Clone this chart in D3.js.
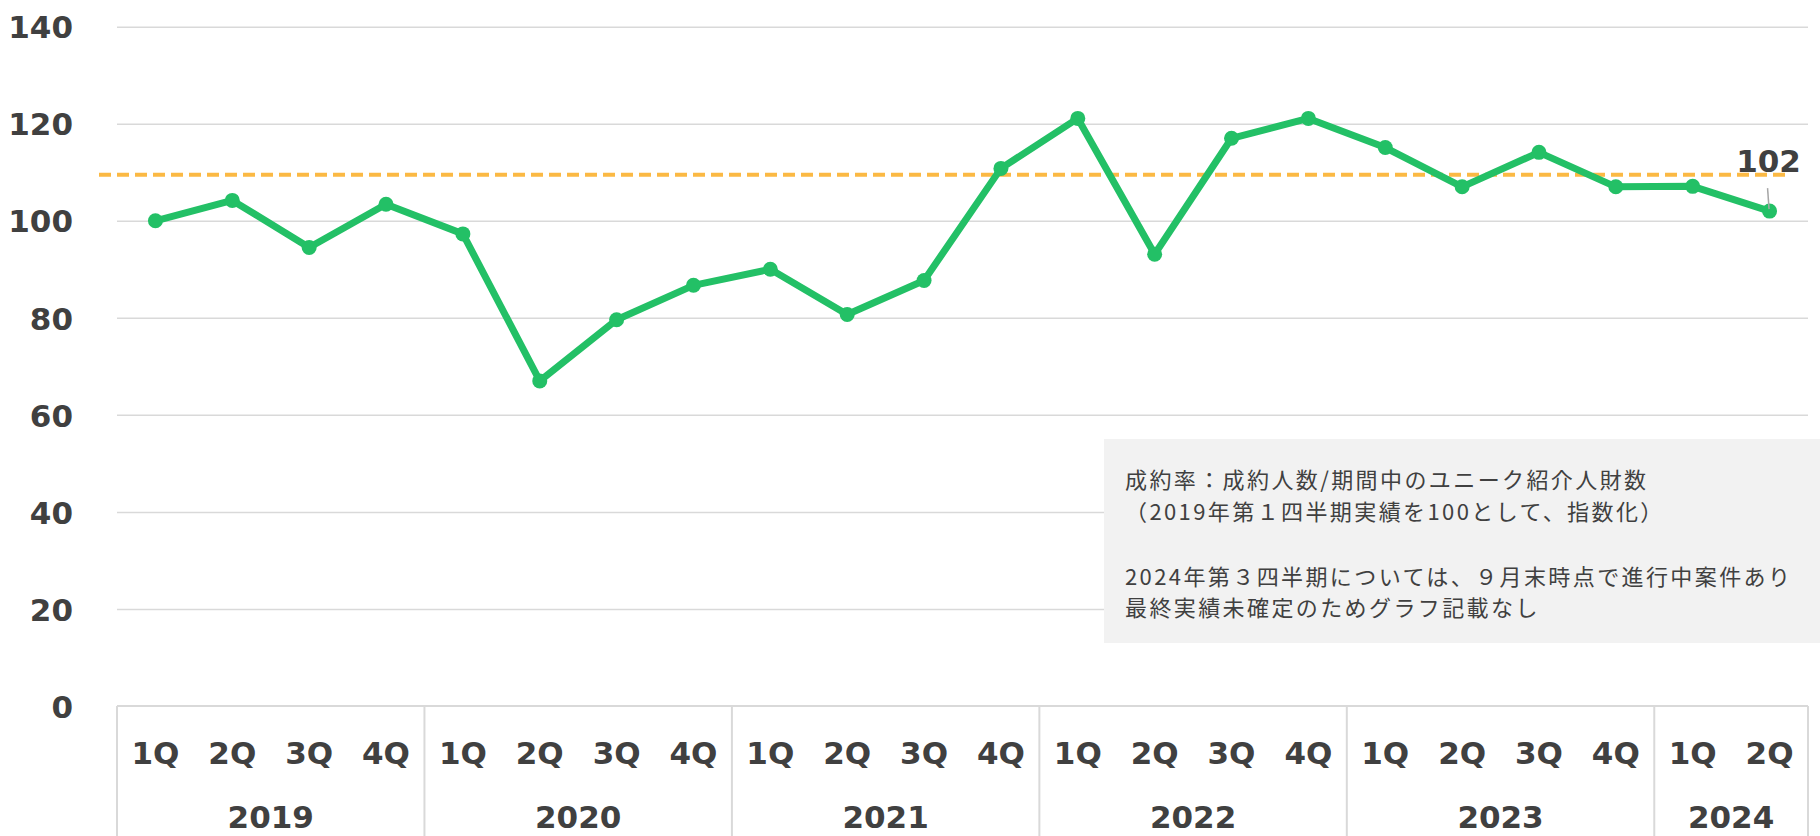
<!DOCTYPE html>
<html>
<head>
<meta charset="utf-8">
<script src="https://cdn.jsdelivr.net/npm/d3@7"></script>
<style>
  html, body { margin: 0; padding: 0; background: #ffffff; }
  svg { display: block; }
</style>
</head>
<body>
<svg id="chart" width="1820" height="836"></svg>
<script>
// ---- data ----
const years = ["2019", "2020", "2021", "2022", "2023", "2024"];
const quartersPerYear = [4, 4, 4, 4, 4, 2];
const quarterNames = ["1Q", "2Q", "3Q", "4Q"];
const values = [
  100, 104.2, 94.5, 103.4,
  97.3, 67.0, 79.6, 86.7,
  90.0, 80.7, 87.7, 110.8,
  121.1, 93.1, 117.0, 121.1,
  115.1, 107.0, 114.1, 107.0,
  107.1, 102.0
];
const referenceValue = 109.5;
const yTicks = [0, 20, 40, 60, 80, 100, 120, 140];
const lastLabel = "102";
const noteLines = [
  "成約率：成約人数/期間中のユニーク紹介人財数",
  "（2019年第１四半期実績を100として、指数化）",
  "",
  "2024年第３四半期については、９月末時点で進行中案件あり",
  "最終実績未確定のためグラフ記載なし"
];

(function () {
// ---- build categories ----
const cats = [];
years.forEach((yr, i) => {
  for (let q = 0; q < quartersPerYear[i]; q++) {
    cats.push({ key: yr + "-" + quarterNames[q], year: yr, q: quarterNames[q] });
  }
});
const points = cats.map((c, i) => ({ key: c.key, value: values[i] }));

// ---- layout ----
const plotLeft = 117, plotRight = 1808, plotTop = 26.7, plotBottom = 706, svgH = 836;
const svg = d3.select("#chart");

const x = d3.scaleBand().domain(cats.map(c => c.key)).range([plotLeft, plotRight]).padding(0);
const y = d3.scaleLinear().domain([0, 140]).range([plotBottom, plotTop]);

const labelFont = "'DejaVu Sans', Verdana, sans-serif";
const labelSize = "31px";
const textColor = "#404040";
const gridColor = "#d9d9d9";

// gridlines
const grid = svg.append("g")
  .attr("transform", `translate(${plotLeft},0)`)
  .call(d3.axisLeft(y).tickValues(yTicks.filter(v => v > 0)).tickSize(-(plotRight - plotLeft)).tickFormat(""));
grid.select(".domain").remove();
grid.selectAll("line").attr("stroke", gridColor).attr("stroke-width", 1.5);

// y axis labels
const yAxis = svg.append("g")
  .attr("transform", `translate(${plotLeft},0)`)
  .call(d3.axisLeft(y).tickValues(yTicks).tickSize(0).tickPadding(44));
yAxis.select(".domain").remove();
yAxis.selectAll("text")
  .attr("fill", textColor)
  .style("font-family", labelFont)
  .style("font-weight", "bold")
  .style("font-size", labelSize)
  .attr("dy", "0.36em");

// category box: top line + separators
const box = svg.append("g");
box.append("line")
  .attr("x1", plotLeft).attr("x2", plotRight)
  .attr("y1", y(0)).attr("y2", y(0))
  .attr("stroke", gridColor).attr("stroke-width", 2);

const yearSpans = years.map(yr => {
  const ks = cats.filter(c => c.year === yr).map(c => c.key);
  return { year: yr, x0: x(ks[0]), x1: x(ks[ks.length - 1]) + x.bandwidth() };
});
const seps = [yearSpans[0].x0].concat(yearSpans.map(s => s.x1));
box.selectAll("line.sep").data(seps).enter().append("line")
  .attr("class", "sep")
  .attr("x1", d => d).attr("x2", d => d)
  .attr("y1", y(0)).attr("y2", svgH)
  .attr("stroke", gridColor).attr("stroke-width", 2);

// quarter labels via axis
const xAxis = svg.append("g")
  .attr("transform", `translate(0,${y(0)})`)
  .call(d3.axisBottom(x).tickSize(0).tickFormat(k => k.split("-")[1]));
xAxis.select(".domain").remove();
xAxis.selectAll("text")
  .attr("y", 58)
  .attr("dy", 0)
  .attr("fill", textColor)
  .style("font-family", labelFont)
  .style("font-weight", "bold")
  .style("font-size", labelSize);

// year labels
svg.append("g").selectAll("text").data(yearSpans).enter().append("text")
  .attr("x", d => (d.x0 + d.x1) / 2)
  .attr("y", 828)
  .attr("text-anchor", "middle")
  .attr("fill", textColor)
  .style("font-family", labelFont)
  .style("font-weight", "bold")
  .style("font-size", labelSize)
  .text(d => d.year);

// note box
const noteX = 1104, noteY = 439, noteW = 1820 - 1104, noteH = 204;
svg.append("rect")
  .attr("x", noteX).attr("y", noteY).attr("width", noteW).attr("height", noteH)
  .attr("fill", "#f2f2f2");
const baselines = [488, 520, 552, 585, 616];
svg.append("g").selectAll("text").data(noteLines).enter().append("text")
  .attr("x", 1125)
  .attr("y", (d, i) => baselines[i])
  .attr("fill", "#404040")
  .style("font-family", "'Noto Sans CJK JP', sans-serif")
  .style("font-size", "22px")
  .style("letter-spacing", "2.4px")
  .text(d => d);

// reference dashed line
svg.append("line")
  .attr("x1", 99).attr("x2", 1791)
  .attr("y1", y(referenceValue)).attr("y2", y(referenceValue))
  .attr("stroke", "#fbb944")
  .attr("stroke-width", 4)
  .attr("stroke-dasharray", "12,6");

// series line
const cx = d => x(d.key) + x.bandwidth() / 2;
const line = d3.line().x(cx).y(d => y(d.value));
svg.append("path")
  .datum(points)
  .attr("d", line)
  .attr("fill", "none")
  .attr("stroke", "#23c066")
  .attr("stroke-width", 7)
  .attr("stroke-linejoin", "round");
svg.append("g").selectAll("circle").data(points).enter().append("circle")
  .attr("cx", cx)
  .attr("cy", d => y(d.value))
  .attr("r", 7.5)
  .attr("fill", "#23c066");

// last value label with leader
const last = points[points.length - 1];
svg.append("line")
  .attr("x1", cx(last) - 2).attr("y1", y(last.value) - 23)
  .attr("x2", cx(last) - 0.5).attr("y2", y(last.value) - 2)
  .attr("stroke", "#a6a6a6").attr("stroke-width", 1.5);
svg.append("text")
  .attr("x", cx(last) - 1)
  .attr("y", y(last.value) - 39)
  .attr("text-anchor", "middle")
  .attr("fill", textColor)
  .style("font-family", labelFont)
  .style("font-weight", "bold")
  .style("font-size", labelSize)
  .text(lastLabel);
})();
</script>
</body>
</html>
